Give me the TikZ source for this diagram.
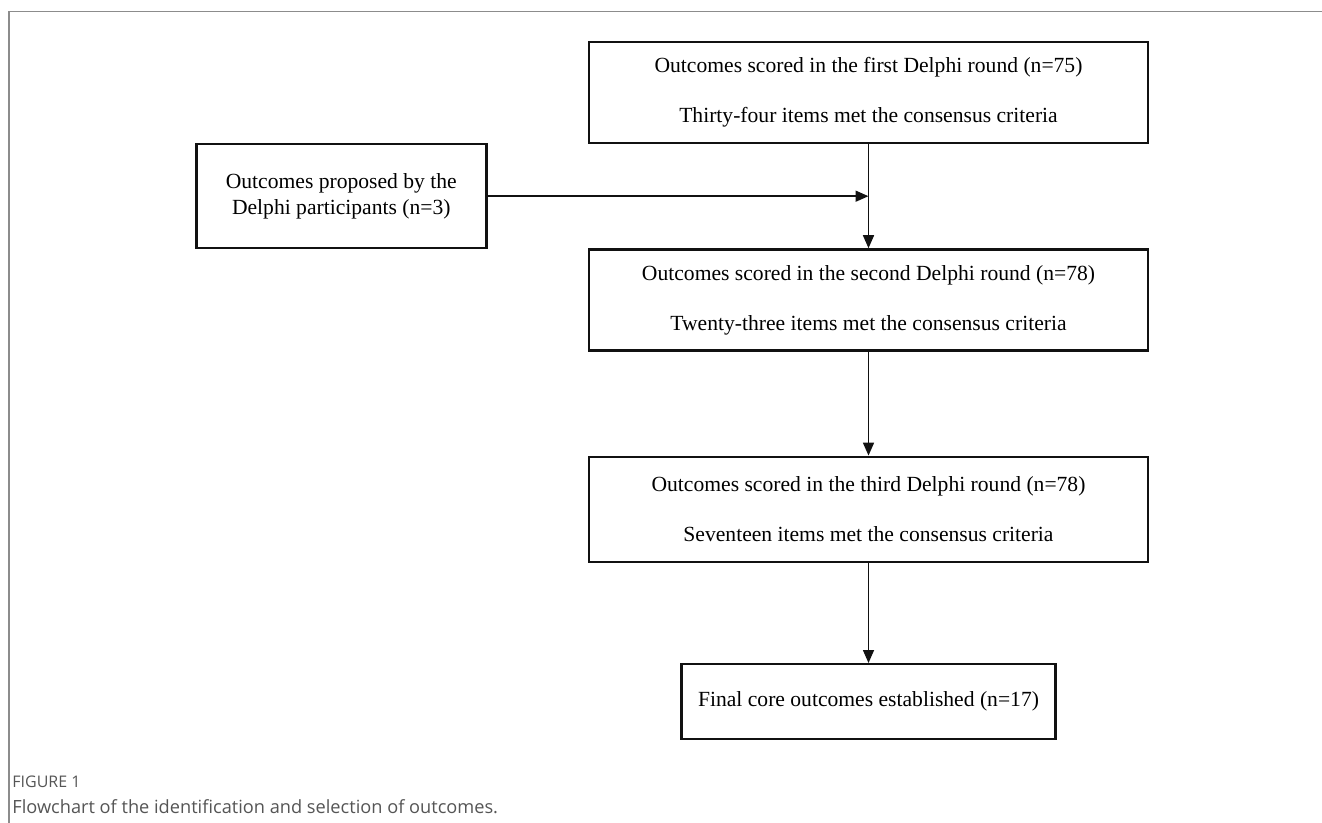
\documentclass[tikz,border=0pt]{standalone}
\usepackage{fontspec}
\setmainfont{Liberation Serif}
\newfontfamily\capfont{Open Sans}
\usepackage{xcolor}
\usepackage{tikz}
\usetikzlibrary{arrows.meta,positioning,calc}
\definecolor{cline}{HTML}{111111}
\definecolor{cframe}{HTML}{8C8C8C}
\definecolor{ccap}{HTML}{555555}
\tikzset{
  stage/.style={rectangle, draw=cline, line width=1.2pt, fill=white,
    align=center, inner sep=2pt, font=\fontsize{10.8}{13}\selectfont},
  wide/.style={stage, minimum width=279.5pt, minimum height=50.5pt},
  arr/.style={-{Triangle[length=6.5pt,width=5.5pt]}, line width=0.8pt, draw=cline},
  pageline/.style={draw=cframe, line width=0.75pt},
  captext/.style={anchor=west, inner sep=0pt, text=ccap, font=\capfont\fontsize{9.1}{11}\selectfont},
}

\begin{document}
\begin{tikzpicture}[node distance=52pt and 51pt]
  \useasboundingbox (0,0) rectangle (661pt,-411.5pt);
  \draw[pageline] (661pt,-5.75pt) -- (4.5pt,-5.75pt) -- (4.5pt,-411.5pt);

  \node[wide] (r1) at (434.25pt,-46.25pt)
    {Outcomes scored in the first Delphi round (n=75)\\[12pt]
     Thirty-four items met the consensus criteria};
  \node[wide, below=of r1] (r2)
    {Outcomes scored in the second Delphi round (n=78)\\[12pt]
     Twenty-three items met the consensus criteria};
  \node[wide, below=of r2, minimum height=52.5pt] (r3)
    {Outcomes scored in the third Delphi round (n=78)\\[12pt]
     Seventeen items met the consensus criteria};
  \node[stage, below=50pt of r3, minimum width=187pt, minimum height=37.5pt] (fin)
    {Final core outcomes established (n=17)};

  \coordinate (join) at ($(r1.south)!0.5!(r2.north)$);
  \node[stage, left=190.5pt of join, anchor=east, minimum width=145pt, minimum height=52pt] (prop)
    {Outcomes proposed by the\\ Delphi participants (n=3)};

  \draw[arr] (r1) -- (r2);
  \draw[arr] (prop.east) -- (join);
  \draw[arr] (r2) -- (r3);
  \draw[arr] (r3) -- (fin);

  \node[captext, font=\capfont\fontsize{8}{9}\selectfont] (fig) at (6pt,-391pt) {FIGURE 1};
  \node[captext] (title) at (6pt,-403.5pt) {Flowchart of the identification and selection of outcomes.};
\end{tikzpicture}
\end{document}
